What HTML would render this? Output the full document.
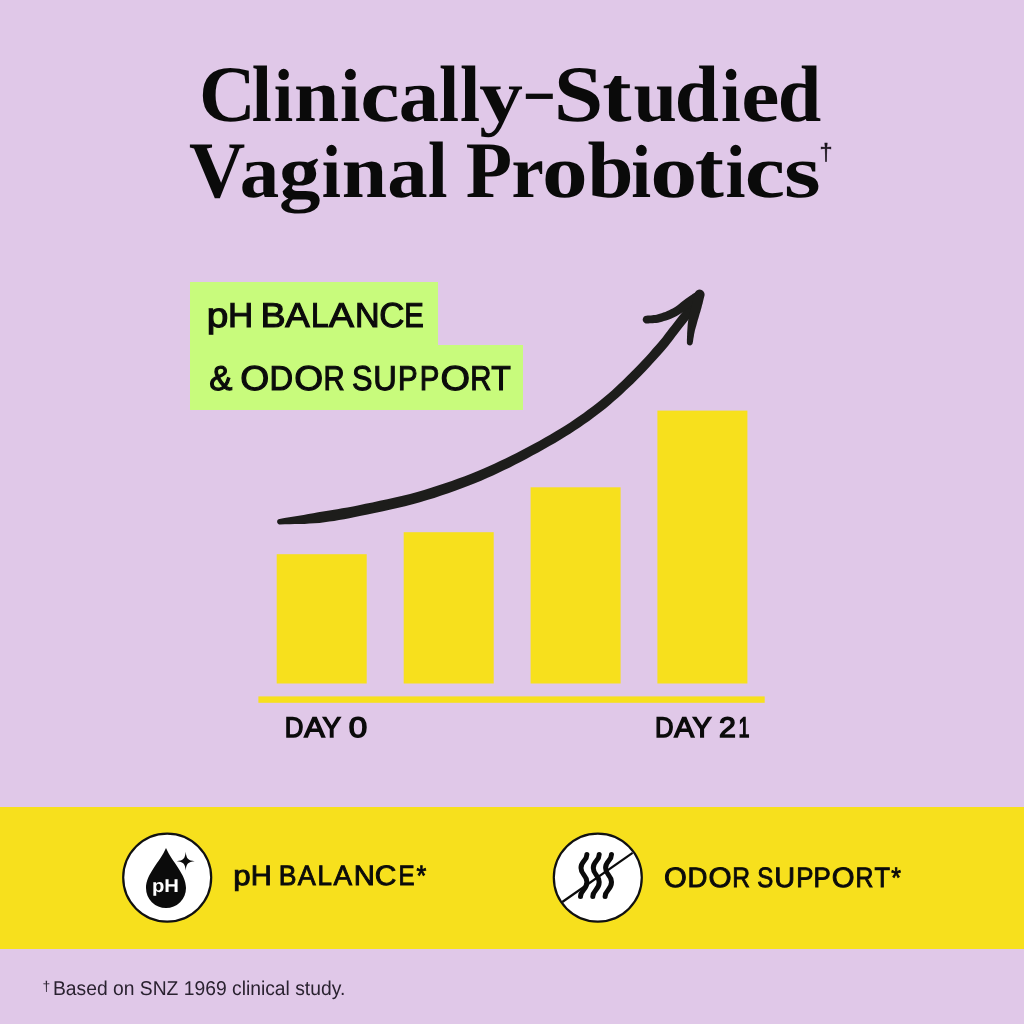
<!DOCTYPE html>
<html lang="en">
<head>
<meta charset="utf-8">
<title>Clinically-Studied Vaginal Probiotics</title>
<style>
  html,body{margin:0;padding:0;}
  body{text-rendering:geometricPrecision;width:1024px;height:1024px;overflow:hidden;background:#E0C8E8;position:relative;
       font-family:"Liberation Sans",Arial,sans-serif;color:#0b0b0b;}
  .abs{position:absolute;white-space:nowrap;line-height:1;transform-origin:0 0;}
  .title{font-family:"Liberation Serif","Times New Roman",serif;font-weight:700;color:#0a0a0a;}
  .tl{position:absolute;left:0;width:1024px;height:80px;white-space:nowrap;line-height:1;font-size:80px;}
  .L{display:inline-block;width:0;white-space:pre;transform-origin:0 0;}
  .L.x{transform-origin:0 67px;}
  .sl{position:absolute;left:0;width:1024px;white-space:nowrap;line-height:1;height:1em;}
  .sb{font-family:'Liberation Sans',Arial,sans-serif;font-weight:400;-webkit-text-stroke:1.1px #0b0b0b;}
  .sb2{font-family:'Liberation Sans',Arial,sans-serif;font-weight:400;-webkit-text-stroke:1.4px #0b0b0b;}
  .sb3{font-family:'Liberation Sans',Arial,sans-serif;font-weight:400;-webkit-text-stroke:0.9px #0b0b0b;}
  .sans{font-family:"Liberation Sans",Arial,sans-serif;font-weight:700;}
  .green{position:absolute;background:#C8FB7C;}
  .band{position:absolute;left:0;top:807px;width:1024px;height:141.5px;background:#F7E01D;}
  svg{position:absolute;left:0;top:0;}
</style>
</head>
<body>

<!-- Title -->
<div class="title tl" id="t1" style="top:55.1px;"><span class="L" style="transform:translateX(199.07px) scaleX(0.982)">C</span><span class="L" style="transform:translateX(251.68px) scaleX(0.903)">l</span><span class="L x" style="transform:translateX(273.75px) scale(0.874,0.94)">i</span><span class="L x" style="transform:translateX(294.09px) scale(1.017,0.94)">n</span><span class="L x" style="transform:translateX(340.07px) scale(0.916,0.94)">i</span><span class="L x" style="transform:translateX(360.29px) scale(1.105,0.94)">c</span><span class="L x" style="transform:translateX(398.86px) scale(1.009,0.94)">a</span><span class="L" style="transform:translateX(439.08px) scaleX(0.903)">l</span><span class="L" style="transform:translateX(459.88px) scaleX(0.903)">l</span><span class="L x" style="transform:translateX(479.21px) scale(1.092,0.94)">y</span><span class="L" style="transform:translate(521.90px,5px) scale(1.300,0.78)">-</span><span class="L" style="transform:translateX(553.73px) scaleX(1.114)">S</span><span class="L" style="transform:translateX(602.36px) scaleX(1.098)">t</span><span class="L x" style="transform:translateX(633.39px) scale(0.978,0.94)">u</span><span class="L" style="transform:translateX(674.84px) scaleX(0.993)">d</span><span class="L x" style="transform:translateX(721.02px) scale(0.889,0.94)">i</span><span class="L x" style="transform:translateX(741.18px) scale(1.075,0.94)">e</span><span class="L" style="transform:translateX(777.69px) scaleX(0.978)">d</span></div>
<div class="title tl" id="t2" style="top:130.6px;"><span class="L" style="transform:translateX(189.03px) scaleX(0.974)">V</span><span class="L x" style="transform:translateX(239.71px) scale(0.987,0.94)">a</span><span class="L x" style="transform:translateX(279.02px) scale(1.038,0.94)">g</span><span class="L x" style="transform:translateX(321.87px) scale(0.863,0.94)">i</span><span class="L x" style="transform:translateX(341.78px) scale(1.019,0.94)">n</span><span class="L x" style="transform:translateX(387.16px) scale(1.009,0.94)">a</span><span class="L" style="transform:translateX(427.92px) scaleX(0.877)">l</span><span class="L sp"> </span><span class="L" style="transform:translateX(465.68px) scaleX(0.948)">P</span><span class="L x" style="transform:translateX(511.52px) scale(0.908,0.94)">r</span><span class="L x" style="transform:translateX(541.99px) scale(1.143,0.94)">o</span><span class="L" style="transform:translateX(587.45px) scaleX(1.033)">b</span><span class="L x" style="transform:translateX(631.31px) scale(0.895,0.94)">i</span><span class="L x" style="transform:translateX(650.29px) scale(1.176,0.94)">o</span><span class="L" style="transform:translateX(694.76px) scaleX(1.094)">t</span><span class="L x" style="transform:translateX(725.60px) scale(0.900,0.94)">i</span><span class="L x" style="transform:translateX(744.70px) scale(1.134,0.94)">c</span><span class="L x" style="transform:translateX(783.93px) scale(1.180,0.94)">s</span></div>
<div class="abs" id="dag" style="left:819.5px;top:141px;font-size:23.4px;color:#1a141c;-webkit-text-stroke:0.45px #1a141c;">†</div>

<!-- Green labels -->
<div class="green" style="left:190px;top:282.4px;width:247.5px;height:70px;"></div>
<div class="green" style="left:190px;top:344.5px;width:333px;height:65.3px;"></div>
<div class="sl sb" id="g1" style="top:298.54575px;font-size:34.5px;"><span class="L" style="transform:translateX(206.72px) scaleX(1.127)">p</span><span class="L" style="transform:translateX(228.03px) scaleX(1.013)">H</span><span class="L sp"> </span><span class="L" style="transform:translateX(260.44px) scaleX(1.095)">B</span><span class="L" style="transform:translateX(285.26px) scaleX(1.064)">A</span><span class="L" style="transform:translateX(310.94px) scaleX(0.917)">L</span><span class="L" style="transform:translateX(328.87px) scaleX(1.098)">A</span><span class="L" style="transform:translateX(354.98px) scaleX(0.988)">N</span><span class="L" style="transform:translateX(379.19px) scaleX(1.009)">C</span><span class="L" style="transform:translateX(404.25px) scaleX(0.850)">E</span></div>
<div class="sl sb" id="g2" style="top:361.94575px;font-size:34.5px;"><span class="L" style="transform:translateX(209.28px) scaleX(1.005)">&amp;</span><span class="L sp"> </span><span class="L" style="transform:translateX(240.31px) scaleX(1.081)">O</span><span class="L" style="transform:translateX(269.58px) scaleX(0.947)">D</span><span class="L" style="transform:translateX(294.31px) scaleX(1.077)">O</span><span class="L" style="transform:translateX(323.44px) scaleX(0.850)">R</span><span class="L sp"> </span><span class="L" style="transform:translateX(352.05px) scaleX(0.891)">S</span><span class="L" style="transform:translateX(373.23px) scaleX(0.945)">U</span><span class="L" style="transform:translateX(397.89px) scaleX(0.853)">P</span><span class="L" style="transform:translateX(419.79px) scaleX(0.853)">P</span><span class="L" style="transform:translateX(440.39px) scaleX(1.101)">O</span><span class="L" style="transform:translateX(470.29px) scaleX(0.850)">R</span><span class="L" style="transform:translateX(491.22px) scaleX(0.929)">T</span></div>

<!-- Chart -->
<svg width="1024" height="1024" viewBox="0 0 1024 1024">
  <g fill="#F7E01D">
    <rect x="276.7" y="554.2" width="90" height="129.3"/>
    <rect x="403.7" y="532.2" width="90" height="151.3"/>
    <rect x="530.6" y="487.3" width="90" height="196.2"/>
    <rect x="657.4" y="410.6" width="90" height="272.9"/>
    <rect x="258.4" y="696.4" width="506.3" height="6.4"/>
  </g>
  <g id="arrow" fill="#1d1d1b">
    <path d="M279.5 519.0 L284.4 518.1 L289.2 517.3 L294.0 516.5 L298.8 515.7 L303.6 514.9 L308.4 514.0 L313.2 513.2 L318.1 512.3 L322.9 511.5 L327.7 510.7 L332.4 510.0 L337.2 509.2 L342.2 508.3 L347.4 507.4 L352.9 506.4 L358.9 505.2 L365.4 503.8 L372.4 502.4 L379.7 500.8 L387.3 499.2 L394.9 497.5 L402.6 495.7 L410.0 493.9 L417.2 492.0 L424.1 489.9 L431.1 487.8 L438.0 485.6 L444.9 483.3 L451.7 481.0 L458.3 478.6 L464.8 476.2 L471.1 473.7 L477.2 471.3 L483.1 468.8 L488.8 466.3 L494.4 463.7 L500.0 461.1 L505.5 458.5 L511.0 455.7 L516.6 452.9 L522.2 450.1 L527.9 447.1 L533.5 444.0 L539.2 440.9 L544.7 437.8 L550.1 434.7 L555.4 431.6 L560.5 428.5 L565.4 425.4 L570.1 422.4 L574.7 419.3 L579.1 416.3 L583.5 413.2 L587.7 410.1 L591.9 407.0 L596.1 403.8 L600.2 400.6 L604.1 397.3 L608.0 394.0 L611.8 390.7 L615.5 387.3 L619.2 383.8 L623.0 380.3 L626.7 376.6 L630.5 372.8 L634.5 368.8 L638.4 364.7 L642.4 360.5 L646.2 356.4 L649.8 352.4 L653.1 348.6 L656.1 345.3 L658.7 342.3 L660.8 339.8 L662.7 337.4 L664.3 335.3 L666.0 333.1 L667.6 330.9 L669.4 328.5 L671.5 325.9 L673.8 322.9 L676.3 319.7 L679.0 316.3 L681.7 312.9 L684.3 309.6 L686.6 306.5 L688.7 303.8 L690.4 301.6 L691.5 300.0 L692.3 298.8 L692.7 298.1 L693.0 297.6 L693.2 297.2 L693.4 296.6 L693.8 295.7 L694.3 294.7 L695.3 293.4 L696.8 292.6 L698.4 292.3 L700.0 292.5 L701.4 293.3 L702.5 294.5 L703.2 296.0 L703.2 297.7 L702.7 299.3 L702.3 299.9 L702.1 300.3 L701.9 300.9 L701.6 301.7 L701.0 302.7 L700.3 303.9 L699.3 305.4 L698.0 307.2 L696.3 309.5 L694.2 312.3 L691.7 315.4 L689.1 318.8 L686.4 322.2 L683.8 325.6 L681.2 328.8 L678.9 331.7 L677.0 334.3 L675.2 336.6 L673.6 338.8 L671.9 341.0 L670.1 343.3 L668.2 345.8 L665.9 348.5 L663.3 351.5 L660.2 355.0 L656.8 358.7 L653.1 362.8 L649.3 366.9 L645.3 371.2 L641.2 375.4 L637.2 379.5 L633.3 383.4 L629.5 387.0 L625.7 390.6 L621.9 394.2 L618.0 397.7 L614.1 401.1 L610.2 404.5 L606.1 407.9 L601.9 411.2 L597.6 414.5 L593.3 417.7 L589.0 420.9 L584.5 424.0 L580.0 427.2 L575.3 430.3 L570.5 433.4 L565.5 436.5 L560.3 439.7 L555.0 442.9 L549.5 446.1 L543.9 449.3 L538.2 452.5 L532.4 455.6 L526.7 458.7 L521.0 461.7 L515.4 464.5 L509.9 467.4 L504.3 470.1 L498.7 472.8 L493.0 475.5 L487.1 478.1 L481.1 480.7 L474.9 483.3 L468.5 485.8 L461.9 488.3 L455.2 490.8 L448.3 493.3 L441.3 495.6 L434.3 497.9 L427.2 500.1 L420.0 502.2 L412.7 504.3 L405.1 506.2 L397.4 508.0 L389.6 509.8 L382.0 511.5 L374.6 513.0 L367.6 514.5 L361.1 515.8 L355.1 517.1 L349.4 518.2 L344.2 519.2 L339.1 520.1 L334.2 520.9 L329.4 521.6 L324.5 522.3 L319.5 522.9 L314.5 523.3 L309.4 523.6 L304.5 523.9 L299.6 524.0 L294.7 524.1 L289.8 524.2 L285.0 524.3 L280.1 524.4 L279.1 524.4 L278.3 524.0 L277.6 523.3 L277.2 522.4 L277.1 521.5 L277.3 520.6 L277.8 519.8 L278.6 519.2 Z"/>
    <path d="M701.6 299.5 L700.3 300.3 L699.0 301.1 L697.7 301.9 L696.4 302.7 L695.1 303.5 L693.8 304.4 L692.4 305.2 L691.0 306.2 L689.5 307.2 L687.9 308.4 L686.3 309.6 L684.5 310.9 L682.7 312.2 L680.8 313.6 L678.8 314.8 L676.8 316.0 L674.7 317.0 L672.6 318.0 L670.4 318.9 L668.3 319.7 L666.1 320.5 L664.0 321.1 L662.0 321.7 L660.0 322.3 L658.1 322.7 L656.2 323.0 L654.5 323.1 L652.8 323.2 L651.3 323.3 L649.8 323.3 L648.4 323.4 L646.9 323.5 L645.6 323.4 L644.4 322.8 L643.4 321.8 L642.8 320.6 L642.7 319.3 L643.1 317.9 L643.8 316.8 L645.0 316.1 L646.3 315.7 L647.9 315.6 L649.4 315.4 L650.9 315.4 L652.3 315.3 L653.7 315.1 L655.1 315.0 L656.5 314.7 L658.0 314.3 L659.7 313.8 L661.5 313.2 L663.3 312.6 L665.3 311.9 L667.2 311.1 L669.1 310.2 L670.9 309.3 L672.6 308.4 L674.3 307.5 L675.9 306.4 L677.6 305.2 L679.2 303.9 L680.9 302.6 L682.5 301.3 L684.2 300.0 L685.8 298.8 L687.3 297.7 L688.7 296.8 L690.1 295.8 L691.4 295.0 L692.6 294.1 L693.9 293.3 L695.1 292.4 L696.4 291.5 L697.9 290.9 L699.6 290.8 L701.1 291.3 L702.5 292.2 L703.4 293.6 L703.7 295.2 L703.5 296.9 L702.8 298.3 Z"/>
    <path d="M704.5 295.8 L704.1 297.1 L703.8 298.3 L703.5 299.5 L703.2 300.8 L702.9 302.0 L702.6 303.4 L702.2 304.8 L701.8 306.3 L701.4 307.9 L700.9 309.6 L700.4 311.4 L699.8 313.2 L699.3 315.0 L698.8 316.8 L698.3 318.5 L697.8 320.1 L697.4 321.6 L697.0 323.1 L696.6 324.5 L696.2 325.9 L695.8 327.3 L695.4 328.7 L695.0 330.1 L694.7 331.5 L694.4 332.9 L694.1 334.3 L693.9 335.7 L693.7 337.1 L693.4 338.5 L693.2 339.9 L693.0 341.4 L692.7 342.8 L692.5 343.8 L691.9 344.6 L691.0 345.2 L690.0 345.4 L689.0 345.3 L688.1 344.9 L687.4 344.2 L686.9 343.2 L686.9 342.2 L686.9 340.8 L686.9 339.3 L687.0 337.9 L687.0 336.5 L687.1 335.0 L687.1 333.5 L687.2 332.0 L687.3 330.5 L687.4 329.0 L687.5 327.5 L687.6 325.9 L687.7 324.4 L687.9 322.8 L688.1 321.2 L688.3 319.6 L688.6 317.9 L688.9 316.1 L689.4 314.3 L689.8 312.4 L690.3 310.6 L690.8 308.7 L691.3 306.9 L691.8 305.3 L692.2 303.7 L692.5 302.3 L692.9 300.9 L693.2 299.6 L693.5 298.4 L693.8 297.1 L694.1 295.9 L694.4 294.7 L694.7 293.4 L695.5 291.8 L696.7 290.6 L698.2 289.8 L699.9 289.6 L701.6 290.0 L703.1 291.0 L704.1 292.4 L704.6 294.1 Z"/>
  </g>
</svg>

<div class="sl sb2" id="d0" style="top:713.2440499999999px;font-size:28.3px;"><span class="L" style="transform:translateX(284.82px) scaleX(0.912)">D</span><span class="L" style="transform:translateX(304.17px) scaleX(1.088)">A</span><span class="L" style="transform:translateX(322.58px) scaleX(0.978)">Y</span><span class="L sp"> </span><span class="L" style="transform:translateX(348.77px) scaleX(1.175)">0</span></div>
<div class="sl sb2" id="d21" style="top:713.2440499999999px;font-size:28.3px;"><span class="L" style="transform:translateX(654.93px) scaleX(0.906)">D</span><span class="L" style="transform:translateX(674.14px) scaleX(1.054)">A</span><span class="L" style="transform:translateX(692.58px) scaleX(1.015)">Y</span><span class="L sp"> </span><span class="L" style="transform:translateX(718.93px) scaleX(1.071)">2</span><span class="L" style="transform:translateX(738.49px) scaleX(0.700)">1</span></div>

<!-- Yellow band -->
<div class="band"></div>
<svg width="1024" height="1024" viewBox="0 0 1024 1024">
  <!-- pH icon -->
  <circle cx="167.2" cy="877.6" r="44" fill="#fff" stroke="#111" stroke-width="2.2"/>
  <path d="M166 848 C 172 862, 186 874, 186 888 A 20 20 0 0 1 146 888 C 146 874, 160 862, 166 848 Z" fill="#0b0b0b"/>
  <path d="M185.7 851.8 C 186.4 858.9, 188.0 860.5, 194.7 861.2 C 188.0 861.9, 186.4 863.5, 185.7 870.6 C 185.0 863.5, 183.4 861.9, 176.7 861.2 C 183.4 860.5, 185.0 858.9, 185.7 851.8 Z" fill="#0b0b0b"/>
  <g transform="translate(165.5 0) scale(1.09 1) translate(-165.5 0)"><text x="165.5" y="891.7" text-anchor="middle" font-family="Liberation Sans, Arial, sans-serif" font-weight="700" font-size="18.6" fill="#fff">pH</text></g>
  <!-- odor icon -->
  <circle cx="597.8" cy="877.6" r="44" fill="#fff" stroke="#111" stroke-width="2.2"/>
  <g fill="none" stroke="#0b0b0b" stroke-width="5" stroke-linecap="round">
    <path d="M586.9 854.6 C 586.9 861, 581 861, 581 868 C 581 875, 586.9 875, 586.9 882 C 586.9 890, 580.5 890, 580.5 896.5"/>
    <path d="M599.2 854.6 C 599.2 861, 593.3 861, 593.3 868 C 593.3 875, 599.2 875, 599.2 882 C 599.2 890, 592.8 890, 592.8 896.5"/>
    <path d="M611.5 854.6 C 611.5 861, 605.6 861, 605.6 868 C 605.6 875, 611.5 875, 611.5 882 C 611.5 890, 605.1 890, 605.1 896.5"/>
  </g>
  <line x1="562.3" y1="902" x2="632.6" y2="852.8" stroke="#0b0b0b" stroke-width="2.2"/>
</svg>
<div class="sl sb3" id="b1" style="top:861.548px;font-size:28px;"><span class="L" style="transform:translateX(233.30px) scaleX(1.117)">p</span><span class="L" style="transform:translateX(250.77px) scaleX(1.041)">H</span><span class="L sp"> </span><span class="L" style="transform:translateX(278.76px) scaleX(0.949)">B</span><span class="L" style="transform:translateX(297.78px) scaleX(0.963)">A</span><span class="L" style="transform:translateX(317.50px) scaleX(0.929)">L</span><span class="L" style="transform:translateX(333.48px) scaleX(0.995)">A</span><span class="L" style="transform:translateX(353.76px) scaleX(1.047)">N</span><span class="L" style="transform:translateX(374.67px) scaleX(1.067)">C</span><span class="L" style="transform:translateX(398.54px) scaleX(0.862)">E</span><span class="L" style="transform:translateX(416.56px) scaleX(0.898)">*</span></div>
<div class="sl sb3" id="b2" style="top:864.1479999999999px;font-size:28px;"><span class="L" style="transform:translateX(663.92px) scaleX(1.047)">O</span><span class="L" style="transform:translateX(687.58px) scaleX(0.985)">D</span><span class="L" style="transform:translateX(708.60px) scaleX(1.062)">O</span><span class="L" style="transform:translateX(732.20px) scaleX(0.880)">R</span><span class="L sp"> </span><span class="L" style="transform:translateX(757.32px) scaleX(0.856)">S</span><span class="L" style="transform:translateX(774.28px) scaleX(1.032)">U</span><span class="L" style="transform:translateX(796.21px) scaleX(0.923)">P</span><span class="L" style="transform:translateX(813.61px) scaleX(0.923)">P</span><span class="L" style="transform:translateX(831.72px) scaleX(1.047)">O</span><span class="L" style="transform:translateX(855.49px) scaleX(0.886)">R</span><span class="L" style="transform:translateX(874.49px) scaleX(0.904)">T</span><span class="L" style="transform:translateX(891.16px) scaleX(0.888)">*</span></div>

<!-- Footnote -->
<div class="abs" id="fd" style="left:42.6px;top:978.6px;font-size:14px;color:#2a2230;">†</div>
<div class="abs" id="f1" style="left:52.54px;top:978.97px;font-size:20.0px;transform:scaleX(0.9641);color:#2a2230;">Based on SNZ 1969 clinical study.</div>

</body>
</html>
